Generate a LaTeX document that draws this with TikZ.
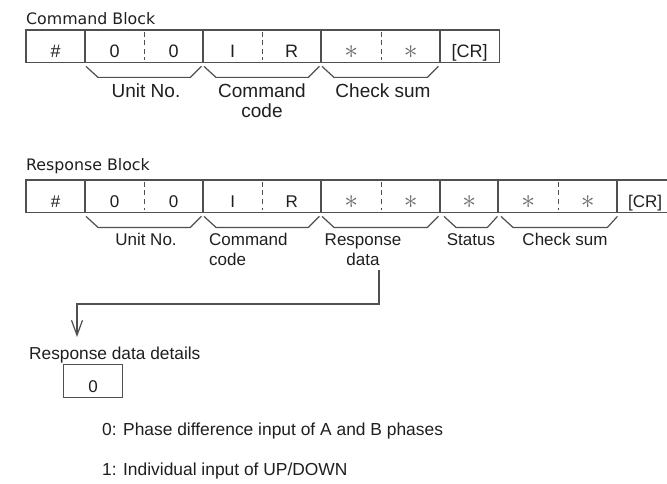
\documentclass[tikz,border=0pt]{standalone}
\usepackage{fontspec}
\setmainfont{Liberation Sans}
\newfontfamily\vfont{DejaVu Sans}
\usetikzlibrary{calc,arrows.meta}
\definecolor{ln}{HTML}{505050}
\definecolor{tx}{HTML}{1F1F1F}
\definecolor{ast}{HTML}{6A6A6A}
\newcommand\astr{\textcolor{ast}{\raisebox{-1pt}{\scalebox{1.6}{$\ast$}}}}
\newcommand\brk[2]{\draw[brace] ($(#1.south west)+(1,4)$) -- ($(#1.south west)+(13,15)$) -- ($(#2.south east)+(-13,15)$) -- ($(#2.south east)+(-2,4)$);}
\begin{document}
\begin{tikzpicture}[x=1pt,y=-1pt,
  slot/.style={minimum height=32pt,inner sep=0pt,anchor=north west,text height=23pt,text depth=0pt,text=tx},
  cmdf/.style={font=\fontsize{18}{20}\selectfont},
  rspf/.style={font=\fontsize{17}{20}\selectfont},
  frame/.style={draw=ln,line width=1.4pt},
  divider/.style={draw=ln,line width=1.8pt,dash pattern=on 5pt off 3.5pt},
  brace/.style={draw=ln,line width=1.2pt,line join=round},
  lbl/.style={inner sep=0pt,text=tx},
  title/.style={inner sep=0pt,anchor=base west,text=tx,font=\vfont\fontsize{15.8}{18}\selectfont},
  conn/.style={draw=ln,line width=1.2pt}]
\clip (0,0) rectangle (667,484);
\fill[white] (0,0) rectangle (667,484);
% ---------- Command block ----------
\node[title] (tcmd) at (26,25) {Command Block};
\begin{scope}[every node/.append style={cmdf}]
\node[slot,minimum width=59pt] (ah)  at (26,30)  {\#};
\node[slot,minimum width=59pt] (au1) at (85,30)  {0};
\node[slot,minimum width=59pt] (au2) at (144,30) {0};
\node[slot,minimum width=59pt] (ac1) at (203,30) {I};
\node[slot,minimum width=59pt] (ac2) at (262,30) {R};
\node[slot,minimum width=60pt] (as1) at (321,30) {\astr};
\node[slot,minimum width=59pt] (as2) at (381,30) {\astr};
\node[slot,minimum width=59pt] (acr) at (440,30) {[CR]};
\end{scope}
\draw[frame] (ah.north west) rectangle (ah.south east);
\draw[frame] (au1.north west) rectangle (au2.south east);
\draw[frame] (ac1.north west) rectangle (ac2.south east);
\draw[frame] (as1.north west) rectangle (as2.south east);
\draw[frame] (acr.north west) rectangle (acr.south east);
\draw[divider] ($(au1.north east)+(0,2)$) -- ($(au1.south east)+(0,-2)$);
\draw[divider] ($(ac1.north east)+(0,2)$) -- ($(ac1.south east)+(0,-2)$);
\draw[divider] ($(as1.north east)+(0,2)$) -- ($(as1.south east)+(0,-2)$);
\brk{au1}{au2}
\brk{ac1}{ac2}
\brk{as1}{as2}
\begin{scope}[every node/.append style={font=\fontsize{19}{20}\selectfont}]
\node[lbl,anchor=base] (aunit) at (146,98) {Unit No.};
\node[lbl,anchor=base] (acode) at (262,98) {Command};
\node[lbl,anchor=base] (acode2) at (262,118) {code};
\node[lbl,anchor=base] (asum) at (383,98) {Check sum};
\end{scope}
% ---------- Response block ----------
\node[title] (trsp) at (26,171) {Response Block};
\begin{scope}[every node/.append style={rspf}]
\node[slot,minimum width=59pt] (bh)  at (26,180)  {\#};
\node[slot,minimum width=59pt] (bu1) at (85,180)  {0};
\node[slot,minimum width=59pt] (bu2) at (144,180) {0};
\node[slot,minimum width=59pt] (bc1) at (203,180) {I};
\node[slot,minimum width=59pt] (bc2) at (262,180) {R};
\node[slot,minimum width=60pt] (bd1) at (321,180) {\astr};
\node[slot,minimum width=59pt] (bd2) at (381,180) {\astr};
\node[slot,minimum width=58pt] (bst) at (440,180) {\astr};
\node[slot,minimum width=60pt] (bk1) at (498,180) {\astr};
\node[slot,minimum width=59pt] (bk2) at (558,180) {\astr};
\node[slot,minimum width=56pt] (bcr) at (617,180) {[CR]};
\end{scope}
\draw[frame] (bh.north west) rectangle (bh.south east);
\draw[frame] (bu1.north west) rectangle (bu2.south east);
\draw[frame] (bc1.north west) rectangle (bc2.south east);
\draw[frame] (bd1.north west) rectangle (bd2.south east);
\draw[frame] (bst.north west) rectangle (bst.south east);
\draw[frame] (bk1.north west) rectangle (bk2.south east);
\draw[frame] (bcr.north west) rectangle (bcr.south east);
\draw[divider] ($(bu1.north east)+(0,2)$) -- ($(bu1.south east)+(0,-2)$);
\draw[divider] ($(bc1.north east)+(0,2)$) -- ($(bc1.south east)+(0,-2)$);
\draw[divider] ($(bd1.north east)+(0,2)$) -- ($(bd1.south east)+(0,-2)$);
\draw[divider] ($(bk1.north east)+(0,2)$) -- ($(bk1.south east)+(0,-2)$);
\brk{bu1}{bu2}
\brk{bc1}{bc2}
\brk{bd1}{bd2}
\draw[brace] ($(bst.south west)+(4,4)$) -- ($(bst.south west)+(16,15)$) -- ($(bst.south east)+(-11,15)$) -- ($(bst.south east)+(-1,4)$);
\draw[brace] ($(bk1.south west)+(3,4)$) -- ($(bk1.south west)+(15,15)$) -- ($(bk2.south east)+(-10,15)$) -- ($(bk2.south east)+(0,4)$);
\begin{scope}[every node/.append style={font=\fontsize{17}{20}\selectfont}]
\node[lbl,anchor=base] (bunit) at (146,245) {Unit No.};
\node[lbl,anchor=base west] (bcode) at (209,245) {Command};
\node[lbl,anchor=base west] (bcode2) at (209,265) {code};
\node[lbl,anchor=base] (bdata) at (363,245) {Response};
\node[lbl,anchor=base] (bdata2) at (363,265) {data};
\node[lbl,anchor=base] (bstat) at (471,245) {Status};
\node[lbl,anchor=base] (bsum) at (565,245) {Check sum};
\end{scope}
% ---------- connector ----------
\coordinate (cstart) at (379,270);
\coordinate (ctip) at (77,337);
\draw[conn,-{Straight Barb[length=15pt,width=11pt,line width=1.2pt]}] (cstart) -- (379,304) -- (77,304) -- (ctip);
% ---------- details ----------
\node[lbl,anchor=base west,font=\fontsize{17.3}{20}\selectfont] (det) at (29,359) {Response data details};
\node[frame,minimum width=59pt,minimum height=33pt,inner sep=0pt,anchor=north west,text height=22pt,text depth=0pt,text=tx,font=\fontsize{17}{20}\selectfont] (dbox) at (63,364) {0};
\node[lbl,anchor=base west,font=\fontsize{17.4}{20}\selectfont] (opt0) at (102,435) {0: Phase difference input of A and B phases};
\node[lbl,anchor=base west,font=\fontsize{17.4}{20}\selectfont] (opt1) at (102,475) {1: Individual input of UP/DOWN};
\end{tikzpicture}
\end{document}
